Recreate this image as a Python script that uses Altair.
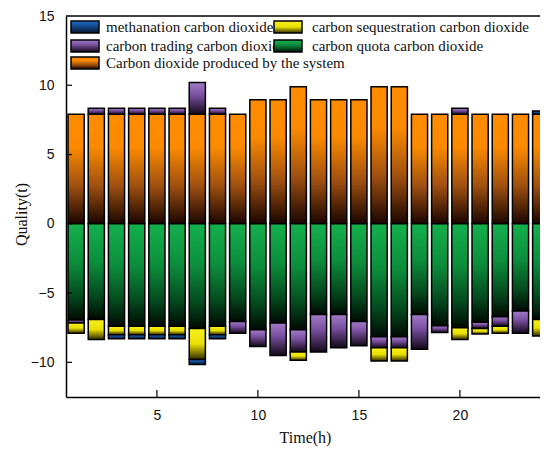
import altair as alt
import pandas as pd

# ---------------- data ----------------
hours = list(range(1, 25))
system_co2 = [7.9, 7.9, 7.9, 7.9, 7.9, 7.9, 7.9, 7.9, 7.9, 8.95, 8.95, 9.9,
              8.95, 8.95, 8.95, 9.9, 9.9, 7.9, 7.9, 7.9, 7.9, 7.9, 7.9, 7.9]
quota_co2 = [-6.95, -6.9, -7.4, -7.4, -7.4, -7.4, -7.55, -7.4, -7.05, -7.65, -7.15, -7.65,
             -6.55, -6.55, -7.05, -8.15, -8.15, -6.55, -7.35, -7.5, -7.1, -6.7, -6.3, -6.9]
trading_co2 = [-0.2, 0.45, 0.45, 0.45, 0.45, 0.45, 2.3, 0.45, -0.85, -1.2, -2.35, -1.6,
               -2.7, -2.4, -1.75, -0.8, -0.8, -2.5, -0.5, 0.45, -0.45, -0.7, -1.6, 0.0]
sequestration_co2 = [-0.75, -1.45, -0.6, -0.6, -0.6, -0.6, -2.25, -0.6, 0.0, 0.0, 0.0, -0.6,
                     0.0, 0.0, 0.0, -0.95, -0.95, 0.0, 0.0, -0.85, -0.4, -0.5, 0.0, -1.2]
methanation_co2 = [0.0, 0.0, -0.3, -0.3, -0.3, -0.3, -0.35, -0.3, 0.0, 0.0, 0.0, 0.0,
                   0.0, 0.0, 0.0, 0.0, 0.0, 0.0, 0.0, 0.0, 0.0, 0.0, 0.0, 0.25]

names = {
    "methanation": "methanation carbon dioxide",
    "sequestration": "carbon sequestration carbon dioxide",
    "trading": "carbon trading carbon dioxide",
    "quota": "carbon quota carbon dioxide",
    "system": "Carbon dioxide produced by the system",
}
y_ticks = [-10, -5, 0, 5, 10, 15]
x_ticks = [5, 10, 15, 20]

# stacking order (positive: system, trading, methanation; negative: quota, trading, sequestration, methanation)
order = [("system", system_co2), ("quota", quota_co2), ("trading", trading_co2),
         ("sequestration", sequestration_co2), ("methanation", methanation_co2)]
rows = []
for i, h in enumerate(hours):
    pos, neg = 0.0, 0.0
    for key, vals in order:
        v = vals[i]
        if v == 0:
            continue
        if v > 0:
            y0, y1 = pos, pos + v
            pos = y1
        else:
            y0, y1 = neg, neg + v
            neg = y1
        rows.append({"series": key, "hour": h, "xa": h - 0.4, "xb": h + 0.4,
                     "ya": y0, "yb": y1, "value": v})
df = pd.DataFrame(rows)

# ---------------- styles ----------------
W, H = 474, 381
XDOM = [0.5, 0.5 + W / 20.2]
YDOM = [-12.5, 15]

def grad(stops):
    return alt.Gradient(gradient="linear",
                        stops=[alt.GradientStop(offset=o, color=c) for o, c in stops],
                        x1=0, x2=0, y1=0, y2=1)

fills = {
    "system": grad([(0, "#ff8c00"), (0.3, "#fb8a00"), (0.65, "#a05010"), (1, "#1a0500")]),
    "quota": grad([(0, "#14b04c"), (0.4, "#0c8e3c"), (0.75, "#044a1e"), (1, "#000a03")]),
    "trading": grad([(0, "#a07cc8"), (0.4, "#7a50a0"), (1, "#120818")]),
    "sequestration": grad([(0, "#f8f020"), (0.5, "#e8e000"), (1, "#302800")]),
    "methanation": grad([(0, "#2070d0"), (1, "#051530")]),
}

xscale = alt.Scale(domain=XDOM, nice=False, zero=False)
yscale = alt.Scale(domain=YDOM, nice=False, zero=False)

x_axis = alt.Axis(values=x_ticks, tickSize=0, labelPadding=11, grid=False,
                  labelFont="Liberation Sans", labelFontSize=14, labelColor="#111",
                  domainColor="black", domainWidth=1.5,
                  title="Time(h)", titleFont="Liberation Serif", titleFontSize=16,
                  titleFontWeight="normal", titleColor="#111",
                  titleX=239, titleY=40, titleAlign="center", titleBaseline="middle")
y_axis = alt.Axis(values=y_ticks, tickSize=0, labelPadding=12, grid=False,
                  labelFont="Liberation Sans", labelFontSize=14, labelColor="#111",
                  domainColor="black", domainWidth=1.5,
                  title="Quality(t)", titleFont="Liberation Serif", titleFontSize=16,
                  titleFontWeight="normal", titleColor="#111",
                  titleX=-45, titleY=198, titleAlign="center", titleBaseline="middle")

layers = []
for key in ["system", "quota", "trading", "sequestration", "methanation"]:
    ch = alt.Chart(df).transform_filter(alt.datum.series == key).mark_rect(
        fill=fills[key], stroke="black", strokeWidth=1.5, clip=True
    ).encode(
        x=alt.X("xa:Q", scale=xscale, axis=x_axis),
        x2="xb:Q",
        y=alt.Y("ya:Q", scale=yscale, axis=y_axis),
        y2="yb:Q",
    )
    layers.append(ch)

# inward tick marks
ytick_df = pd.DataFrame({"ya": y_ticks[:-1]})
xtick_df = pd.DataFrame({"xa": x_ticks})
layers.append(alt.Chart(ytick_df).mark_rule(color="black", strokeWidth=1.2).encode(
    y=alt.Y("ya:Q", scale=yscale, axis=y_axis), x=alt.value(0), x2=alt.value(6)))
layers.append(alt.Chart(xtick_df).mark_rule(color="black", strokeWidth=1.2).encode(
    x=alt.X("xa:Q", scale=xscale, axis=x_axis), y=alt.value(H), y2=alt.value(H - 7)))

one = pd.DataFrame({"a": [0]})
# top frame line
layers.append(alt.Chart(one).mark_rule(color="black", strokeWidth=1.5).encode(
    x=alt.value(0), x2=alt.value(W), y=alt.value(0)))

# manual legend (2 columns, row-major)
legend_items = [
    ("methanation", 0, 0), ("sequestration", 1, 0),
    ("trading", 0, 1), ("quota", 1, 1),
    ("system", 0, 2),
]
col_sw = [5, 208]
col_tx = [40, 246]
row_y = [11, 30, 47]
for key, c, r in legend_items:
    layers.append(alt.Chart(one).mark_text(
        align="left", baseline="middle", font="Liberation Serif", fontSize=15, color="#111"
    ).encode(x=alt.value(col_tx[c]), y=alt.value(row_y[r]), text=alt.value(names[key])))
for key, c, r in legend_items:
    layers.append(alt.Chart(one).mark_rect(
        fill=fills[key], stroke="black", strokeWidth=1.5
    ).encode(x=alt.value(col_sw[c]), x2=alt.value(col_sw[c] + 28),
             y=alt.value(row_y[r] - 6), y2=alt.value(row_y[r] + 6)))

chart = alt.layer(*layers).properties(
    width=W, height=H,
    autosize=alt.AutoSizeParams(type="none"),
    padding={"left": 58, "top": 8, "right": 0, "bottom": 50},
).configure_view(stroke=None)

chart.save("out.html", embed_options={"renderer": "svg", "actions": False})
